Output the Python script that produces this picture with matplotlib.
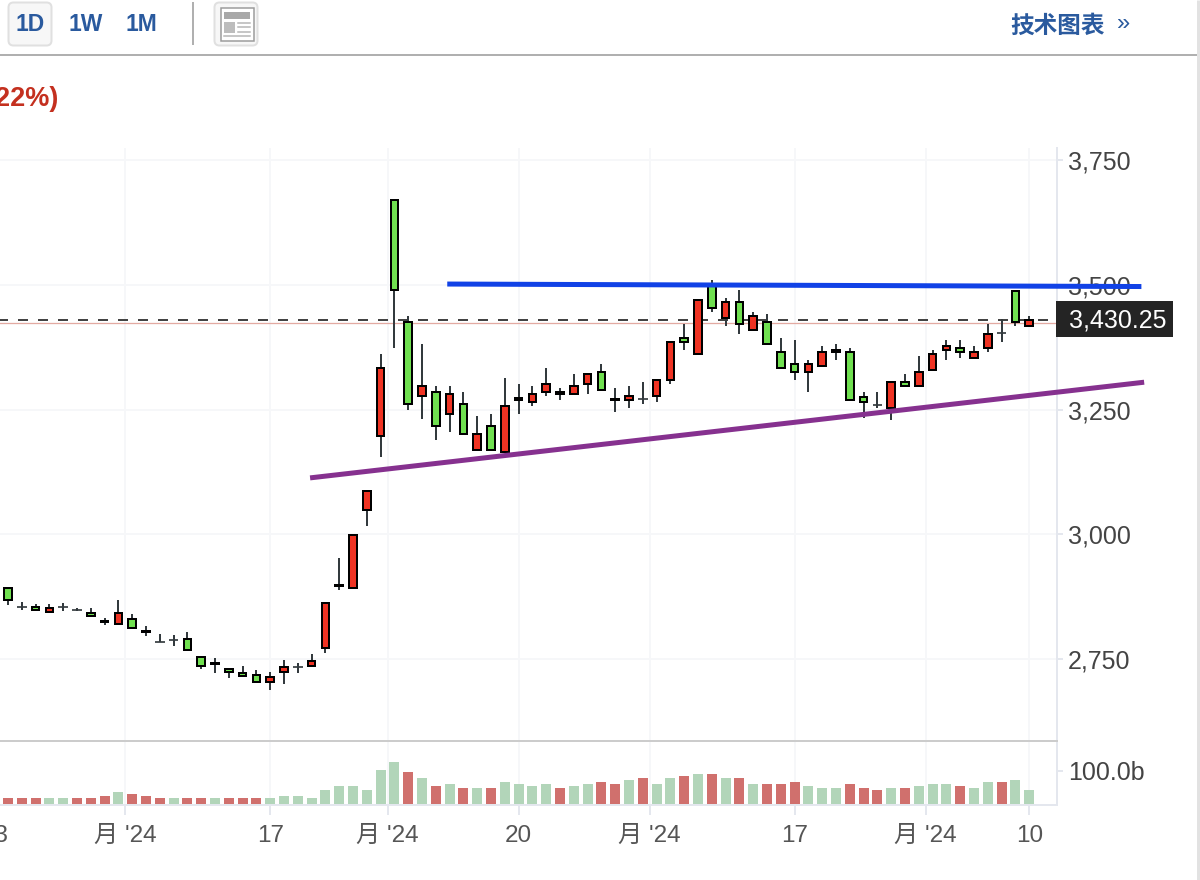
import matplotlib
matplotlib.use("Agg")
import matplotlib.pyplot as plt
import numpy as np
from matplotlib.patches import FancyBboxPatch, Rectangle

plt.rcParams['font.family'] = ['Liberation Sans', 'Noto Sans CJK SC', 'DejaVu Sans']

# ---------- data ----------
opens = [2894,2854,2855,2842,2854,2847,2844,2828,2818,2831,
         2808,2783,2787,2791,2755,2743,2731,2723,2719,2702,
         2722,2734,2734,2769,2900,2890,3047,3195,3673,3428,
         3275,3288,3239,3264,3166,3220,3162,3276,3263,3283,
         3288,3279,3299,3328,3273,3267,3271,3275,3307,3396,
         3359,3502,3431,3468,3408,3428,3368,3344,3323,3336,
         3363,3368,3277,3259,3252,3308,3295,3328,3368,3376,
         3352,3371,3404,3491,3416]
closes = [2866,2854,2846,2854,2854,2847,2834,2822,2843,2810,
          2802,2783,2787,2766,2734,2737,2721,2714,2702,2715,
          2735,2734,2747,2863,2894,3001,3088,3336,3488,3259,
          3300,3215,3284,3199,3204,3166,3260,3267,3284,3304,
          3279,3300,3324,3287,3267,3280,3271,3312,3388,3383,
          3472,3451,3468,3420,3440,3379,3332,3323,3344,3368,
          3372,3267,3263,3259,3308,3295,3328,3364,3380,3363,
          3368,3404,3404,3424,3432]
highs = [2894,2864,2860,2860,2861,2852,2852,2832,2868,2840,
         2816,2800,2797,2804,2755,2751,2731,2735,2727,2723,
         2748,2741,2759,2863,2953,3001,3088,3362,3673,3437,
         3382,3297,3297,3285,3237,3241,3313,3301,3297,3334,
         3293,3321,3324,3342,3293,3297,3305,3312,3388,3422,
         3472,3510,3473,3490,3445,3442,3393,3390,3349,3378,
         3382,3373,3285,3285,3308,3321,3358,3370,3390,3390,
         3378,3422,3431,3491,3437]
lows = [2857,2848,2846,2842,2845,2845,2834,2817,2818,2810,
        2796,2783,2776,2766,2729,2721,2712,2714,2702,2688,
        2700,2721,2734,2761,2889,2890,3017,3154,3374,3250,
        3231,3190,3206,3199,3166,3166,3162,3242,3257,3278,
        3270,3279,3282,3287,3246,3254,3262,3266,3302,3370,
        3359,3446,3418,3402,3408,3379,3332,3310,3286,3336,
        3350,3267,3234,3254,3230,3295,3295,3328,3350,3354,
        3352,3366,3386,3418,3416]
volumes = [20,20,20,20,20,20,20,26,38,32,
           26,20,20,20,20,20,20,20,20,20,
           26,26,20,44,55,55,44,102,125,96,
           79,55,61,50,50,50,67,61,55,61,
           50,55,61,67,61,73,79,61,79,85,
           90,90,79,79,61,61,61,67,55,50,
           50,61,50,44,50,50,55,61,61,55,
           50,67,67,73,44]
volume_sides = list("rrrggrrrgrrrgrrgrrrgggggggggg"
                    "rgrgrgrggggrggrrgrggrgrgrgrrr"
                    "gggrrrgrgggrggrgg")

price_ticks = [2750, 3000, 3250, 3500, 3750]
date_ticks = [8.5, 19, 27.5, 37, 46.5, 57, 66.5, 74]
date_labels = ["月 '24", "17", "月 '24", "20", "月 '24", "17", "月 '24", "10"]
resistance_x, resistance_y = [31.83, 82.13], [3502, 3497]
support_x, support_y = [21.89, 82.33], [3113, 3305]
last_price = 3430.25
prev_close = 3423

C_UP, C_DOWN = "#ef3323", "#70e050"
V_UP, V_DOWN = "#d0706d", "#b2d5b9"
GRID, AXIS = "#f6f7f9", "#e4e7ee"
W, H = 1200, 880
px = 0.72  # one pixel in points


def rect(x0, y0, x1, y1):
    return [x0 / W, 1 - y1 / H, (x1 - x0) / W, (y1 - y0) / H]


fig = plt.figure(figsize=(12, 8.8), dpi=100, facecolor="white")

# page furniture, laid out in pixels
ui = fig.add_axes([0, 0, 1, 1], zorder=0)
ui.set_xlim(0, W); ui.set_ylim(H, 0); ui.axis("off")
BLUE = "#2a5a9e"
for x0 in (8.5, 214.5):
    ui.add_patch(FancyBboxPatch((x0 + 3, 5.5), 37, 37, boxstyle="round,pad=3,rounding_size=5",
                                fc="#f7f7f7", ec="#e0e0e0", lw=2 * px))
for label, xc in (("1D", 30), ("1W", 85.5), ("1M", 141.5)):
    ui.text(xc, 24.5, label, color=BLUE, fontsize=16.5, fontweight="bold", ha="center", va="center")
ui.plot([193, 193], [2, 45], color="#b0b0b0", lw=2 * px, solid_capstyle="butt")
ui.add_patch(Rectangle((220.5, 8.5), 33, 33, fc="white", ec="#9a9a9a", lw=1.5 * px))
ui.add_patch(Rectangle((224, 12), 26, 7, fc="#a8a8a8", ec="none"))
ui.add_patch(Rectangle((224, 22), 11, 11, fc="#bdbdbd", ec="none"))
for y in (23, 27.5, 32):
    ui.plot([238, 250], [y, y], color="#b5b5b5", lw=1.5 * px)
ui.plot([224, 250], [36.5, 36.5], color="#b5b5b5", lw=1.5 * px)
ui.plot([0, 1197], [55, 55], color="#b0b0b0", lw=2 * px, solid_capstyle="butt")
ui.plot([1198, 1198], [0, H], color="#e2e2e2", lw=3 * px, solid_capstyle="butt")
ui.text(1058, 25.5, "技术图表", color=BLUE, fontsize=17, fontweight="bold", ha="center", va="center",
        family=['Noto Sans CJK SC', 'DejaVu Sans'])
ui.text(1124, 24.5, "»", color=BLUE, fontsize=17, ha="center", va="center")
ui.text(58.5, 99, "22%)", color="#c4301f", fontsize=19.5, fontweight="bold", ha="right", va="center")

# scales
xlim = ((0 - 8) / 13.8, (1056.5 - 8) / 13.8)
ax = fig.add_axes(rect(0, 148, 1056.5, 741), zorder=3)
vol = fig.add_axes(rect(0, 741, 1056.5, 805), zorder=2, sharex=ax)
ax.set_ylim(2585, 3775)
ax.set_xlim(*xlim)
vol.set_ylim(0, 186.6)
for a in (ax, vol):
    a.patch.set_visible(False)
    a.set_axisbelow(True)
    a.xaxis.grid(True, color=GRID, lw=2 * px)
    a.spines["top"].set_visible(False)
    a.spines["left"].set_visible(False)
    a.spines["right"].set_color(AXIS)
    a.spines["right"].set_linewidth(2 * px)
    a.yaxis.tick_right()
    a.tick_params(axis="y", length=6 * px, width=2 * px, color=AXIS, pad=5.5 * px,
                  labelsize=18, labelcolor="#444444")
ax.yaxis.grid(True, color=GRID, lw=2 * px)
ax.spines["bottom"].set_color("#cccccc")
ax.spines["bottom"].set_linewidth(2 * px)
ax.tick_params(axis="x", length=0, labelbottom=False)
ax.set_yticks(price_ticks)
ax.set_yticklabels([f"{p:,}" for p in price_ticks])

vol.spines["bottom"].set_color(AXIS)
vol.spines["bottom"].set_linewidth(2 * px)
vol.set_yticks([100])
vol.set_yticklabels(["100.0b"])
vol.set_xticks(date_ticks)
vol.set_xticklabels(date_labels, fontsize=17.5, color="#555555", va="baseline")
vol.tick_params(axis="x", length=10 * px, width=2 * px, color=AXIS, pad=27 * px)
# the label of the tick just off the left edge, cut by the page
vol.annotate("13", xy=(-1.0, 0), xycoords=("data", "axes fraction"), xytext=(0, -37 * px),
             textcoords="offset points", ha="center", va="baseline", fontsize=17.5, color="#555555",
             annotation_clip=False)

# volume
idx = np.arange(len(opens))
vol.bar(idx, volumes, width=0.72, color=[V_UP if s == "r" else V_DOWN for s in volume_sides], zorder=2)

# reference levels
ax.axhline(prev_close, color="#e3aaa2", lw=1.3 * px, zorder=2)
ax.plot(xlim, [last_price, last_price], color="#444444", lw=2 * px, zorder=2.2,
        linestyle=(1, (5, 5)), clip_on=True)

# candles
OUT_W, IN_W = 0.7, 0.41
INSET = 4.0
ax.vlines(idx, lows, highs, color="#333a3e", lw=2 * px, zorder=3)
for i, (o, c) in enumerate(zip(opens, closes)):
    lo, hi = min(o, c), max(o, c)
    if o == c:
        ax.hlines(o, i - OUT_W / 2, i + OUT_W / 2, color="#333a3e", lw=1.7 * px, zorder=3)
        continue
    ax.bar(i, hi - lo, bottom=lo, width=OUT_W, color="black", zorder=4)
    if hi - lo > 2 * INSET:
        ax.bar(i, hi - lo - 2 * INSET, bottom=lo + INSET, width=IN_W,
               color=C_UP if c > o else C_DOWN, zorder=5)

# drawn trend lines
ax.plot(resistance_x, resistance_y, color="#1142e6", lw=5 * px, zorder=6, clip_on=False,
        solid_capstyle="butt")
ax.plot(support_x, support_y, color="#86318f", lw=5 * px, zorder=6, clip_on=False,
        solid_capstyle="butt")

# last-price flag
ax.add_patch(Rectangle((1056, 301), 117, 36, transform=ui.transData, fc="#242424", ec="none",
                       clip_on=False, zorder=7))
ax.annotate(f"{last_price:,.2f}", xy=(1, last_price), xycoords=("axes fraction", "data"),
            xytext=(12 * px, -0.8 * px), textcoords="offset points", ha="left", va="center",
            color="white", fontsize=18, zorder=8, annotation_clip=False)

fig.savefig("out.png", dpi=100)
